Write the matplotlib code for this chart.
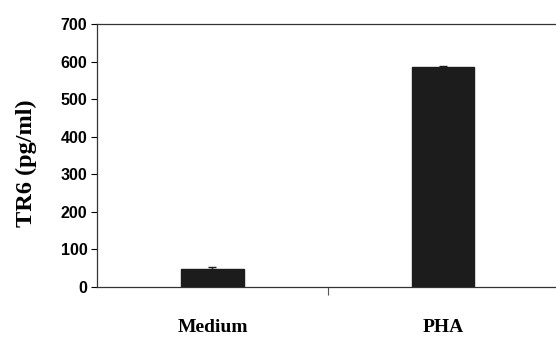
"""TR6 levels in culture supernatant, medium vs PHA stimulation."""
import matplotlib
matplotlib.use("Agg")
import matplotlib.pyplot as plt
import numpy as np

conditions = ["Medium", "PHA"]
tr6_mean = [48, 585]
tr6_err = [4, 3]
y_ticks = [0, 100, 200, 300, 400, 500, 600, 700]

fig = plt.figure(figsize=(5.56, 3.5), dpi=100)
ax = fig.add_axes([0.1745, 0.18, 0.83, 0.751])

x = np.arange(len(conditions))
ax.bar(x, tr6_mean, width=0.27, color="#1c1c1c", edgecolor="#1c1c1c",
       yerr=tr6_err, error_kw=dict(ecolor="#1c1c1c", capsize=3, elinewidth=1))

ax.set_xlim(-0.5, 1.5)
ax.set_ylim(0, 700)
ax.set_yticks(y_ticks)
ax.set_yticklabels([str(v) for v in y_ticks], family="Liberation Sans",
                   fontweight="bold", fontsize=11.5)

# single divider tick between the two categories, labels set as text
ax.set_xticks([0.5])
ax.set_xticklabels([""])
ax.tick_params(axis="x", length=6, width=0.8, colors="#555555", direction="out")
ax.tick_params(axis="y", length=4, width=0.8, pad=3)
for xi, name in zip(x, conditions):
    ax.text(xi, -0.155, name, transform=ax.get_xaxis_transform(),
            ha="center", va="center", family="Liberation Serif",
            fontsize=14, fontweight="bold")

ax.set_ylabel("TR6 (pg/ml)", family="Liberation Serif", fontweight="bold",
              fontsize=17.5)
ax.yaxis.set_label_coords(-0.13, 0.47)

for side in ["left", "bottom", "top"]:
    ax.spines[side].set_linewidth(0.9)
    ax.spines[side].set_color("#333333")
ax.spines["right"].set_visible(False)

fig.savefig("out.png", dpi=100)
